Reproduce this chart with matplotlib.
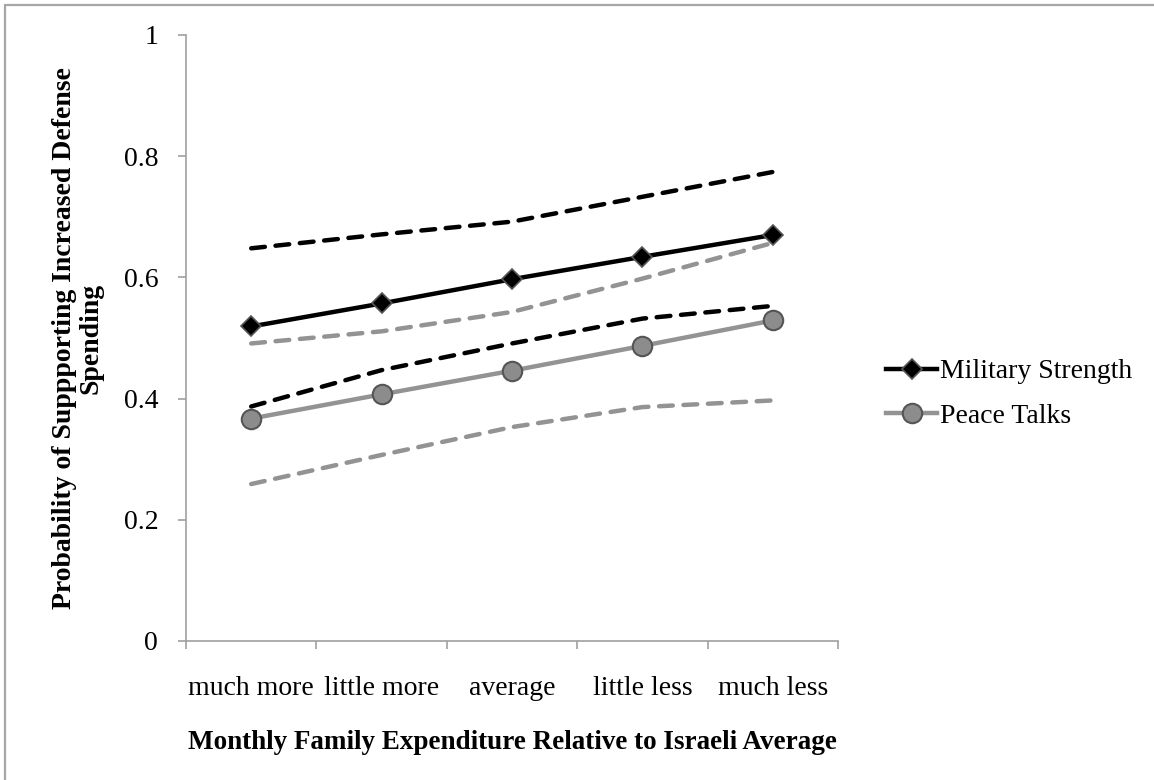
import numpy as np
import matplotlib.pyplot as plt
from matplotlib.patches import Rectangle

# ---- data ----
categories = ['much more', 'little more', 'average', 'little less', 'much less']
military = [0.519, 0.557, 0.597, 0.634, 0.670]
military_hi = [0.648, 0.671, 0.692, 0.733, 0.774]
military_lo = [0.387, 0.447, 0.491, 0.532, 0.553]
peace = [0.367, 0.407, 0.446, 0.487, 0.529]
peace_hi = [0.491, 0.511, 0.543, 0.598, 0.657]
peace_lo = [0.259, 0.307, 0.353, 0.386, 0.397]

plt.rcParams['font.family'] = ['Liberation Serif', 'DejaVu Serif']

BLACK = '#000000'
GREY = '#939393'
DASH = (0, (3.1, 2.4))

fig = plt.figure(figsize=(11.54, 7.8), dpi=100)
ax = fig.add_axes([186 / 1154, 1 - 641 / 780, (838 - 186) / 1154, (641 - 35) / 780])

x = np.arange(len(categories))

# confidence bands (dashed)
for vals, col in [(military_hi, BLACK), (military_lo, BLACK), (peace_hi, GREY), (peace_lo, GREY)]:
    ax.plot(x, vals, color=col, lw=3.2, ls=DASH, dash_capstyle='round', zorder=2)

# main estimates
ax.plot(x, military, color=BLACK, lw=3.2, marker='D', ms=10, mfc=BLACK, mec='#555555',
        mew=1.2, label='Military Strength', zorder=4)
ax.plot(x, peace, color=GREY, lw=3.2, marker='o', ms=14, mfc='#8c8c8c', mec='#555555',
        mew=1.5, label='Peace Talks', zorder=3)

ax.set_xlim(-0.5, len(categories) - 0.5)
ax.set_ylim(0, 1)
ax.set_yticks([0, 0.2, 0.4, 0.6, 0.8, 1.0])
ax.set_yticklabels(['0', '0.2', '0.4', '0.6', '0.8', '1'])
ax.set_xticks(x)
ax.set_xticklabels(categories)
ax.set_xticks(np.arange(-0.5, len(categories)), minor=True)
ax.tick_params(axis='x', which='major', length=0, pad=25, labelsize=20)
ax.tick_params(axis='x', which='minor', length=6, color='#a0a0a0', width=1.2, direction='out')
ax.tick_params(axis='y', length=6, color='#a0a0a0', width=1.2, direction='out', pad=14,
               labelsize=20)

for side in ['top', 'right']:
    ax.spines[side].set_visible(False)
for side in ['left', 'bottom']:
    ax.spines[side].set_color('#a0a0a0')
    ax.spines[side].set_linewidth(1.2)

ax.set_xlabel('Monthly Family Expenditure Relative to Israeli Average', fontsize=19.5,
              fontweight='bold', labelpad=21)
ax.set_ylabel('Probability of Suppporting Increased Defense\nSpending', fontsize=20,
              fontweight='bold', linespacing=1.1)
ax.yaxis.set_label_coords(-0.126, 0.5)

ax.legend(loc='center left', bbox_to_anchor=(872 / 1154, 1 - 394 / 780),
          bbox_transform=fig.transFigure, frameon=False, fontsize=20,
          handlelength=1.85, handletextpad=0.1, labelspacing=0.7, borderpad=0)

# outer chart border
fig.patches.append(Rectangle((5 / 1154, -0.01), 1.2, 1 - 5 / 780 + 0.01, transform=fig.transFigure,
                             fill=False, edgecolor='#a6a6a6', lw=1.6))

fig.savefig('out.png', dpi=100)
